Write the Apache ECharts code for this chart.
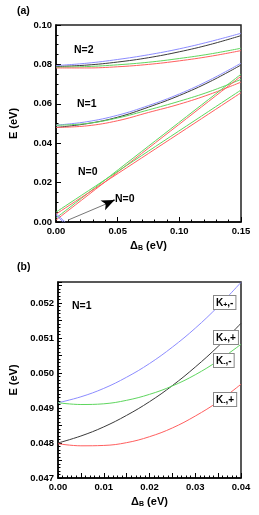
<!DOCTYPE html>
<html><head><meta charset="utf-8">
<script src="https://cdn.jsdelivr.net/npm/echarts@6/dist/echarts.min.js"></script>
<style>html,body{margin:0;padding:0;background:#fff}#c{width:259px;height:515px}</style>
</head><body><div id="c"></div>
<script>
// ---------- Panel (a) data ----------
const xA = [0, 0.025, 0.05, 0.075, 0.1, 0.125, 0.15];
const n2Blue  = [0.0794, 0.0806, 0.0825, 0.0849, 0.0879, 0.0916, 0.0958];
const n2Black = [0.0789, 0.07965, 0.0812, 0.0834, 0.0864, 0.0901, 0.0946];
const n2Green = [0.0786, 0.0789, 0.0798, 0.0811, 0.0830, 0.0853, 0.0882];
const n2Red   = [0.0782, 0.0782, 0.0788, 0.0800, 0.0818, 0.0841, 0.0870];
const n1Blue  = [0.04915, 0.0509, 0.0542, 0.0591, 0.0650, 0.0722, 0.0806];
const n1Black = [0.0480, 0.0499, 0.0532, 0.0583, 0.0642, 0.0713, 0.0797];
const n1Green = [0.0491, 0.0500, 0.0528, 0.0569, 0.0613, 0.0663, 0.0724];
const n1Red   = [0.0480, 0.0488, 0.0514, 0.0556, 0.0598, 0.0649, 0.0710];
const xN0 = [0, 0.075, 0.15];
const n0GreenA = [0.0020, 0.0385, 0.0750];
const n0RedA   = [0.0010, 0.0375, 0.0740];
const n0GreenB = [0.0050, 0.0360, 0.0670];
const n0RedB   = [0.0040, 0.0348, 0.0656];
const xN0s = [0, 0.0075];
const n0BlueS  = [0.0042, 0];
const xN0k = [0, 0.006];
const n0BlueS2 = [0.0034, 0];
const arrowFrom = [0.0099, 0.0010];
const arrowMid  = [0.0400, 0.0090];
const arrowTo   = [0.0475, 0.0112];

// ---------- Panel (b) data ----------
const xB = [0, 0.005, 0.01, 0.015, 0.02, 0.025, 0.03, 0.035, 0.04];
const kPm = [0.04915, 0.04932, 0.04956, 0.04988, 0.05027, 0.05074, 0.05128, 0.05190, 0.05259]; // K+,-
const kPp = [0.04800, 0.04820, 0.04846, 0.04879, 0.04918, 0.04964, 0.05017, 0.05076, 0.05142]; // K+,+
const kMm = [0.04915, 0.04910, 0.04912, 0.04922, 0.04939, 0.04963, 0.04995, 0.05035, 0.05082]; // K-,-
const kMp = [0.04798, 0.04792, 0.04793, 0.04801, 0.04818, 0.04843, 0.04877, 0.04918, 0.04968]; // K-,+

const BLUE = '#8c8cff', BLACK = '#3a3a3a', GREEN = '#5fd65f', RED = '#ff5f5f';
const FONT = '"Liberation Sans", Arial, sans-serif';

function pairs(xs, ys) { return xs.map((x, i) => [x, ys[i]]); }
function line(xs, ys, color, gi) {
  return { type: 'line', xAxisIndex: gi, yAxisIndex: gi, data: pairs(xs, ys), showSymbol: false,
    smooth: 0.4, lineStyle: { color: color, width: 1 }, itemStyle: { color: color }, silent: true, animation: false, z: 3 };
}

const chart = echarts.init(document.getElementById('c'), null, { renderer: 'canvas' });
const axisCommon = {
  axisLine: { show: true, onZero: false, lineStyle: { color: '#000', width: 1.5 } },
  axisTick: { show: true, inside: true, length: 5, lineStyle: { color: '#000', width: 1 } },
  minorTick: { show: true, length: 2.5, lineStyle: { color: '#000', width: 1 } },
  splitLine: { show: false },
  axisLabel: { color: '#000', fontSize: 9.5, fontWeight: 'bold', fontFamily: FONT, margin: 4 }
};
function deep(o) { return JSON.parse(JSON.stringify(o)); }
const subRich = { s: { fontSize: 7, fontWeight: 'bold', fontFamily: FONT, verticalAlign: 'bottom', padding: [6, 0, 0, 0] } };

const xa = Object.assign(deep(axisCommon), { gridIndex: 0, type: 'value', min: 0, max: 0.15, interval: 0.05,
  name: 'Δ{s|B} (eV)', nameLocation: 'middle', nameGap: 17,
  nameTextStyle: { color: '#000', fontSize: 11, fontWeight: 'bold', fontFamily: FONT, rich: subRich } });
xa.axisLabel.formatter = v => v.toFixed(2);
xa.minorTick.splitNumber = 5;
const ya = Object.assign(deep(axisCommon), { gridIndex: 0, type: 'value', min: 0, max: 0.10, interval: 0.02,
  name: 'E (eV)', nameLocation: 'middle', nameGap: 37,
  nameTextStyle: { color: '#000', fontSize: 11, fontWeight: 'bold', fontFamily: FONT } });
ya.axisLabel.formatter = v => v.toFixed(2);
ya.minorTick.splitNumber = 4;

const xb = Object.assign(deep(axisCommon), { gridIndex: 1, type: 'value', min: 0, max: 0.04, interval: 0.005,
  name: 'Δ{s|B} (eV)', nameLocation: 'middle', nameGap: 17,
  nameTextStyle: { color: '#000', fontSize: 11, fontWeight: 'bold', fontFamily: FONT, rich: subRich } });
xb.axisLabel.formatter = v => (Math.round(v * 1000) % 10 === 0 ? v.toFixed(2) : '');
xb.minorTick.splitNumber = 5;
const yb = Object.assign(deep(axisCommon), { gridIndex: 1, type: 'value', min: 0.047, max: 0.0526, interval: 0.0005,
  name: 'E (eV)', nameLocation: 'middle', nameGap: 39,
  nameTextStyle: { color: '#000', fontSize: 11, fontWeight: 'bold', fontFamily: FONT } });
yb.axisLabel.formatter = v => (Math.round(v * 10000) % 10 === 0 && v < 0.0525 ? v.toFixed(3) : '');
yb.axisLabel.showMaxLabel = false;
yb.minorTick.splitNumber = 5;
yb.axisTick.length = 4;

const labelText = (txt, x, y, size) => ({ type: 'text', left: x, top: y, z: 10,
  style: { text: txt, fill: '#000', font: 'bold ' + (size || 10) + 'px ' + FONT } });
const boxLabel = (sign, pm, x, y) => ({ type: 'text', left: x, top: y, z: 10,
  style: { text: 'K{s|' + sign + '},' + pm, fill: '#000', font: 'bold 10px ' + FONT,
    backgroundColor: '#fff', borderColor: '#888', borderWidth: 1, padding: [1, 2, 0, 2],
    rich: { s: { fontSize: 7, fontWeight: 'bold', fontFamily: FONT, verticalAlign: 'bottom', padding: [5, 0, 0, 0] } } } });

const series = [
  line(xA, n2Blue, BLUE, 0), line(xA, n2Black, BLACK, 0), line(xA, n2Green, GREEN, 0), line(xA, n2Red, RED, 0),
  line(xA, n1Blue, BLUE, 0), line(xA, n1Black, BLACK, 0), line(xA, n1Green, GREEN, 0), line(xA, n1Red, RED, 0),
  line(xN0, n0GreenA, GREEN, 0), line(xN0, n0RedA, RED, 0), line(xN0, n0GreenB, GREEN, 0), line(xN0, n0RedB, RED, 0),
  line(xN0s, n0BlueS, BLUE, 0), line(xN0k, n0BlueS2, BLUE, 0),
  { type: 'line', xAxisIndex: 0, yAxisIndex: 0, data: [], silent: true, animation: false,
    markLine: { silent: true, animation: false, label: { show: false },
      data: [
        [{ coord: arrowFrom, symbol: 'none', lineStyle: { color: '#777', width: 1, type: 'solid' } }, { coord: arrowMid, symbol: 'none' }],
        [{ coord: arrowMid, symbol: 'none', lineStyle: { color: '#000', width: 1.5, type: 'solid' } }, { coord: arrowTo, symbol: 'arrow', symbolSize: [8, 13] }]
      ] } },
  line(xB, kPm, BLUE, 1), line(xB, kPp, BLACK, 1), line(xB, kMm, GREEN, 1), line(xB, kMp, RED, 1)
];

chart.setOption({
  backgroundColor: '#fff',
  animation: false,
  grid: [
    { left: 49, top: 25, width: 192, height: 197, show: true, borderColor: '#222', borderWidth: 1.5, backgroundColor: 'transparent' },
    { left: 49, top: 282, width: 192, height: 196, show: true, borderColor: '#222', borderWidth: 1.5, backgroundColor: 'transparent' }
  ],
  xAxis: [xa, xb],
  yAxis: [ya, yb],
  series: series,
  graphic: [
    labelText('(a)', 17, 6, 10.5),
    labelText('(b)', 17, 262, 10.5),
    labelText('N=2', 74, 45, 10.5),
    labelText('N=1', 77, 99, 10.5),
    labelText('N=0', 78, 167, 10.5),
    labelText('N=0', 115, 194, 10.5),
    labelText('N=1', 72, 301, 10.5),
    boxLabel('+', '-', 213, 295),
    boxLabel('+', '+', 213, 330),
    boxLabel('-', '-', 213, 353),
    boxLabel('-', '+', 213, 392)
  ]
});
</script></body></html>
